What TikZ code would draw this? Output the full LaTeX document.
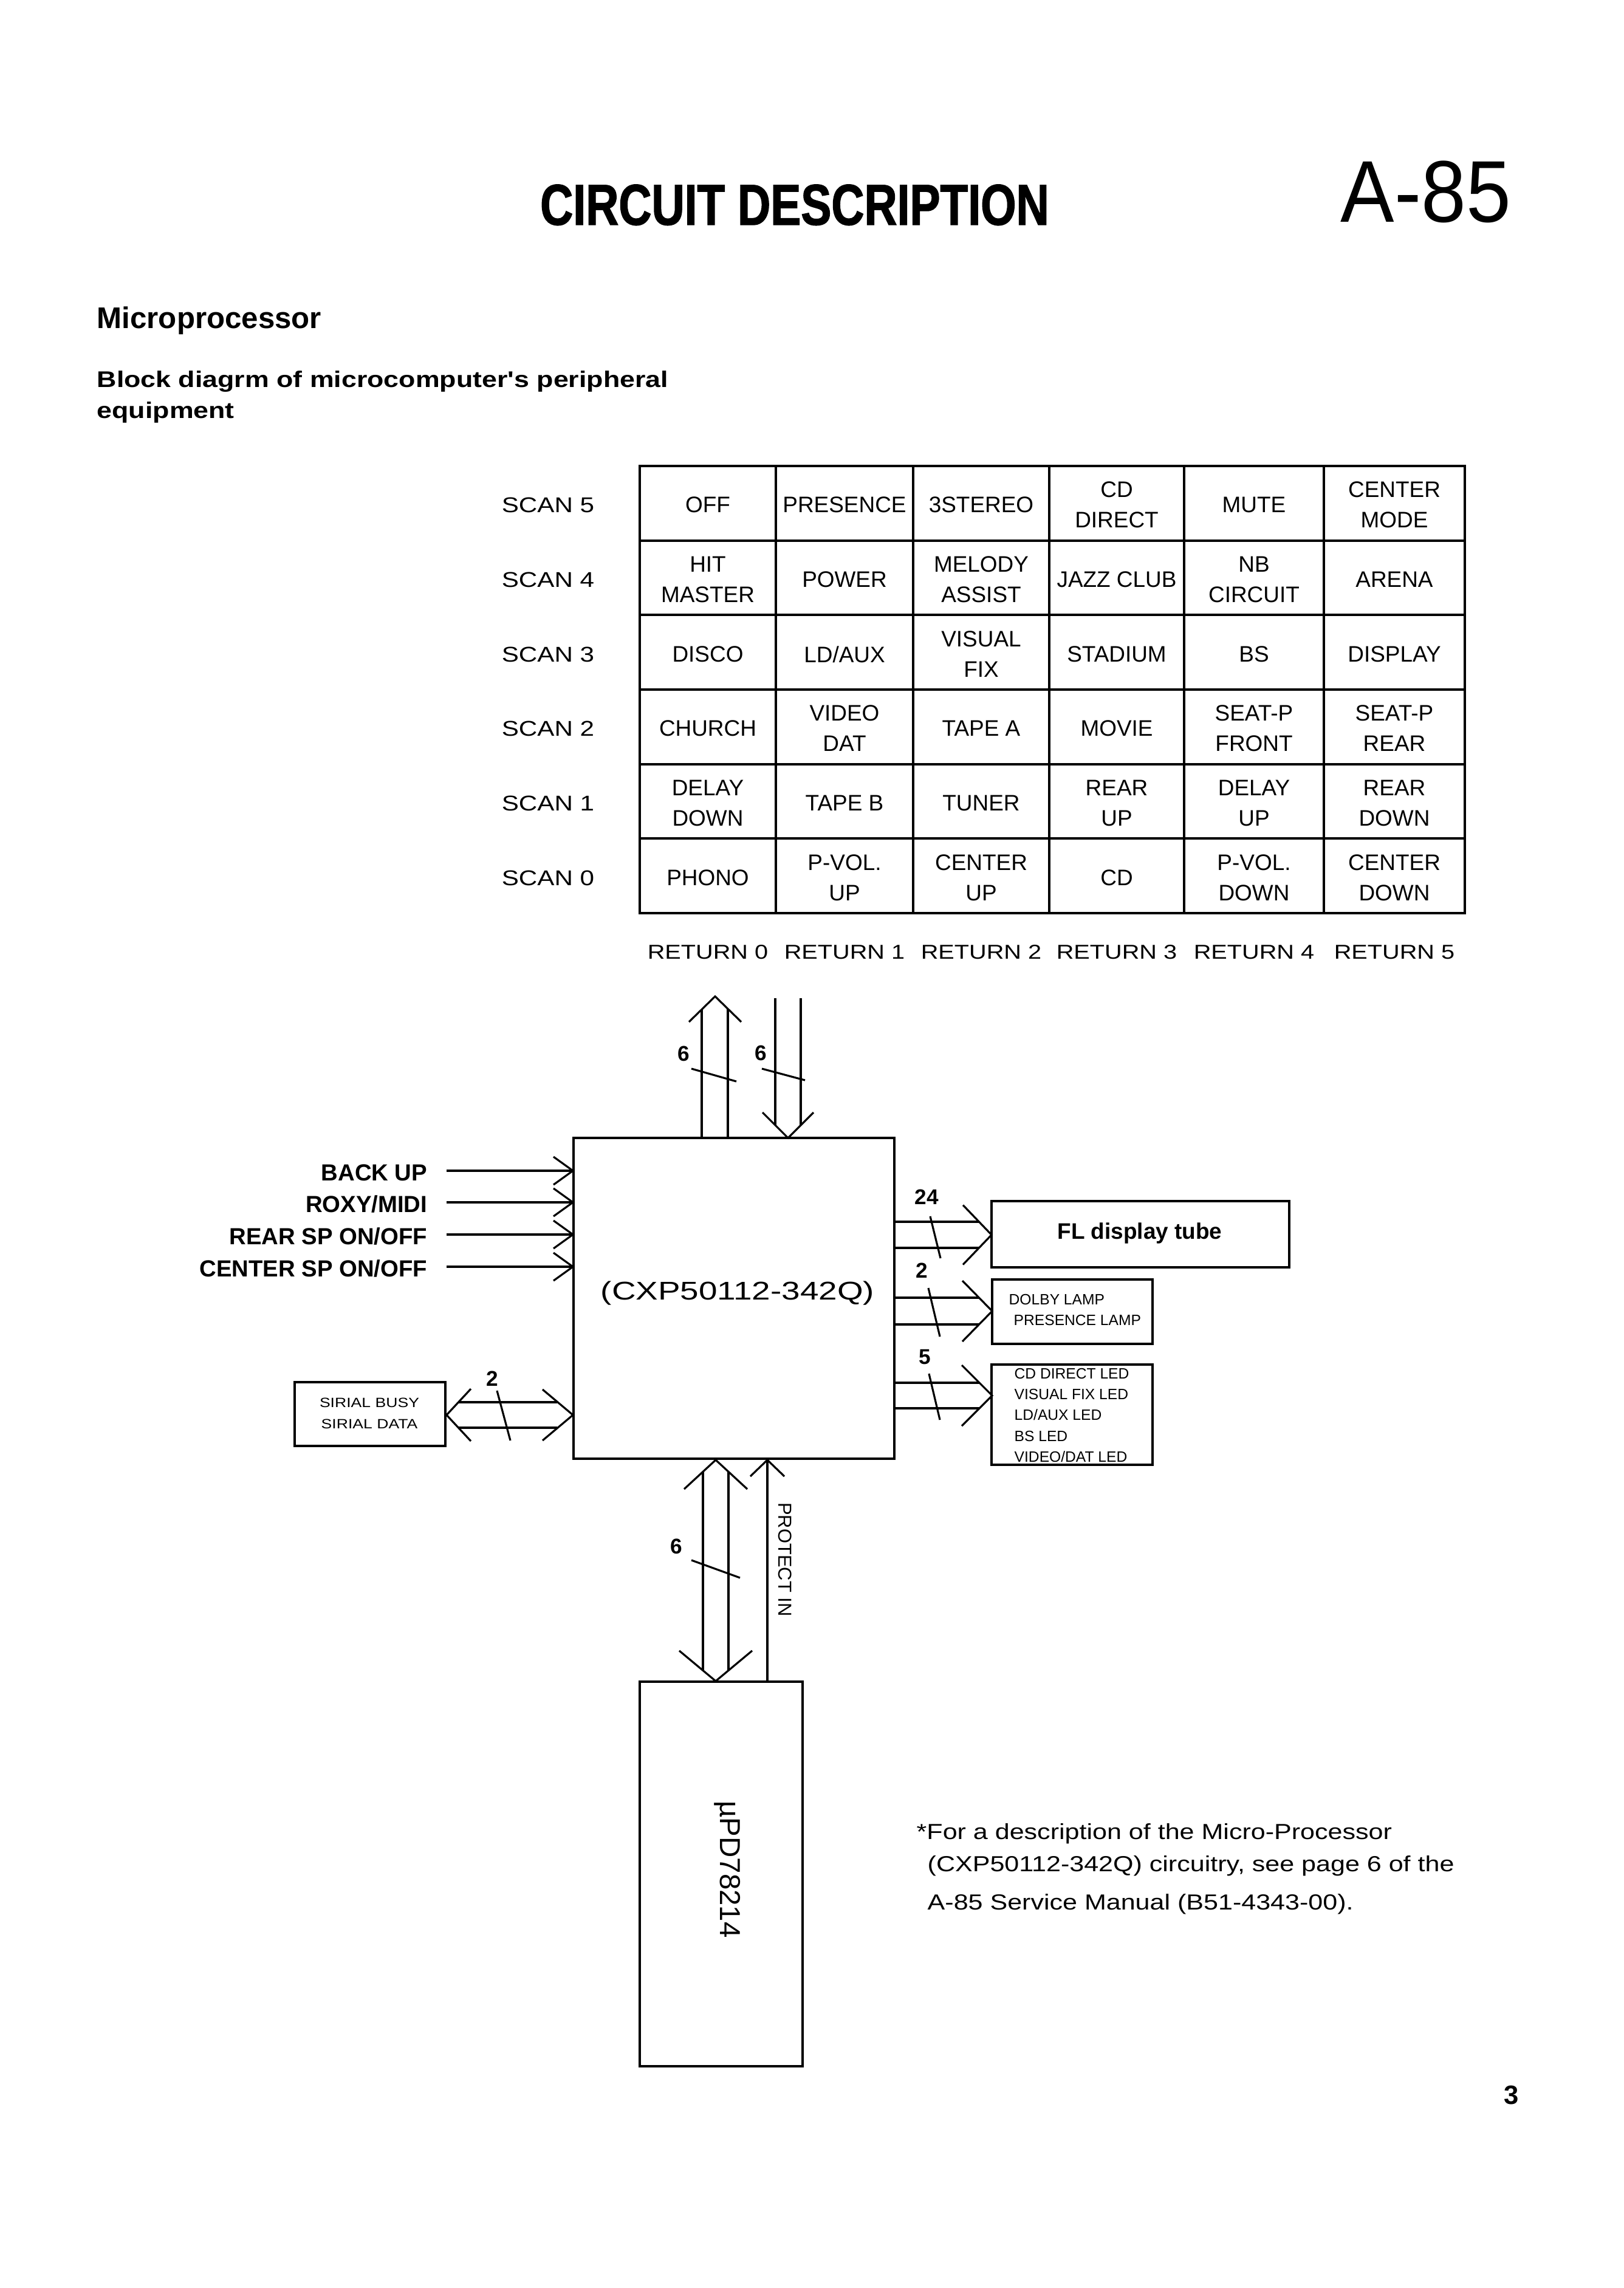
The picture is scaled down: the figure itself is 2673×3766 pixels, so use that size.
\documentclass[tikz,border=0pt]{standalone}
\usepackage{fontspec}
\setmainfont{Liberation Sans}
\newfontfamily\wideF{Liberation Sans}[FakeStretch=1.2]
\newfontfamily\wideG{Liberation Sans}[FakeStretch=1.3]
\newfontfamily\condF{Liberation Sans}[FakeStretch=0.79,FakeBold=1.4]
\newfontfamily\nrwF{Liberation Sans}[FakeStretch=0.92]
\newcommand\fs[2]{\fontsize{#1}{#2}\selectfont}
\newcommand\headR[4]{\draw[wire] (#1-#3,#2-#4) -- (#1,#2) -- (#1-#3,#2+#4);}
\newcommand\headL[4]{\draw[wire] (#1+#3,#2-#4) -- (#1,#2) -- (#1+#3,#2+#4);}
\newcommand\headU[4]{\draw[wire] (#1-#4,#2+#3) -- (#1,#2) -- (#1+#4,#2+#3);}
\newcommand\headD[4]{\draw[wire] (#1-#4,#2-#3) -- (#1,#2) -- (#1+#4,#2-#3);}
\newcommand\cellrow[8]{%
  \node[cell] (#2-0) at (1165,#1) {#3};
  \node[cell] (#2-1) at (1390,#1) {#4};
  \node[cell] (#2-2) at (1615,#1) {#5};
  \node[cell] (#2-3) at (1838,#1) {#6};
  \node[cell] (#2-4) at (2064,#1) {#7};
  \node[cell] (#2-5) at (2295,#1) {#8};}
\tikzset{
  box/.style={draw, line width=1.1pt, inner sep=0pt},
  lbl/.style={inner sep=0pt},
  wire/.style={line width=0.9pt},
  cell/.style={inner sep=0pt, align=center, font=\fs{10.5}{14.2}},
  scanlbl/.style={inner sep=0pt, font=\wideF\fs{10}{12}},
  retlbl/.style={inner sep=0pt, font=\wideF\fs{9.4}{12}},
  inlbl/.style={inner sep=0pt, anchor=east, font=\bfseries\fs{10.9}{13}},
  buslbl/.style={inner sep=0pt, font=\bfseries\fs{10}{12}},
  smalltxt/.style={inner sep=0pt, anchor=west, font=\fs{7}{9}},
  foot/.style={inner sep=0pt, anchor=base west, font=\wideF\fs{10.2}{12}},
}
\begin{document}
\begin{tikzpicture}[x=0.01cm,y=-0.01cm]
\useasboundingbox (0,0) rectangle (2673,3766);
\fill[white] (0,0) rectangle (2673,3766);

% headings
\node[lbl, anchor=base, font=\condF\bfseries\fs{27}{30}] (title) at (1308,370) {CIRCUIT DESCRIPTION};
\node[lbl, anchor=base, font=\nrwF\fs{41}{48}] (model) at (2347,365) {A-85};
\node[lbl, anchor=base west, font=\bfseries\fs{14}{17}] (sec) at (159,540) {Microprocessor};
\node[lbl, anchor=base west, font=\wideF\bfseries\fs{10.6}{13}] (sub1) at (159,637) {Block diagrm of microcomputer's peripheral};
\node[lbl, anchor=base west, font=\wideF\bfseries\fs{10.6}{13}] (sub2) at (159,688) {equipment};

% key matrix table
\node[box, minimum width=13.58cm, minimum height=7.36cm] (tbl) at (1732,1135) {};
\foreach \x in {1277,1503,1727,1949,2179} \draw[line width=1pt] (\x,767) -- (\x,1503);
\foreach \y in {889.7,1012.3,1135,1257.7,1380.3} \draw[line width=1.1pt] (1053,\y) -- (2411,\y);

\cellrow{831}{s5}{OFF}{PRESENCE}{3STEREO}{CD\\DIRECT}{MUTE}{CENTER\\MODE}
\cellrow{954}{s4}{HIT\\MASTER}{POWER}{MELODY\\ASSIST}{JAZZ CLUB}{NB\\CIRCUIT}{ARENA}
\cellrow{1077}{s3}{DISCO}{LD/AUX}{VISUAL\\FIX}{STADIUM}{BS}{DISPLAY}
\cellrow{1199}{s2}{CHURCH}{VIDEO\\DAT}{TAPE A}{MOVIE}{SEAT-P\\FRONT}{SEAT-P\\REAR}
\cellrow{1322}{s1}{DELAY\\DOWN}{TAPE B}{TUNER}{REAR\\UP}{DELAY\\UP}{REAR\\DOWN}
\cellrow{1445}{s0}{PHONO}{P-VOL.\\UP}{CENTER\\UP}{CD}{P-VOL.\\DOWN}{CENTER\\DOWN}

\node[scanlbl] (scan5) at (902,831) {SCAN 5};
\node[scanlbl] (scan4) at (902,954) {SCAN 4};
\node[scanlbl] (scan3) at (902,1077) {SCAN 3};
\node[scanlbl] (scan2) at (902,1199) {SCAN 2};
\node[scanlbl] (scan1) at (902,1322) {SCAN 1};
\node[scanlbl] (scan0) at (902,1445) {SCAN 0};

\node[retlbl] (ret0) at (1165,1567) {RETURN 0};
\node[retlbl] (ret1) at (1390,1567) {RETURN 1};
\node[retlbl] (ret2) at (1615,1567) {RETURN 2};
\node[retlbl] (ret3) at (1838,1567) {RETURN 3};
\node[retlbl] (ret4) at (2064,1567) {RETURN 4};
\node[retlbl] (ret5) at (2295,1567) {RETURN 5};

% main microcomputer box
\node[box, minimum width=5.28cm, minimum height=5.28cm] (cpu) at (1208,2137) {};
\node[lbl, font=\wideG\fs{12}{14}] (cputxt) at (1214,2129) {(CXP50112-342Q)};

% top buses
\draw[wire] (cpu.north -| 1155,0) -- (1155,1661);
\draw[wire] (cpu.north -| 1198,0) -- (1198,1661);
\headU{1177}{1640}{42}{43}
\draw[wire] (1138,1759) -- (1212,1780);
\node[buslbl] (n6a) at (1125,1734) {6};
\coordinate (dtop) at (1297,1643);
\draw[wire] (dtop -| 1276,0) -- (1276,1852);
\draw[wire] (dtop -| 1318,0) -- (1318,1852);
\headD{1297}{1873}{42}{42}
\draw[wire] (1254,1759) -- (1325,1778);
\node[buslbl] (n6b) at (1252,1733) {6};

% left inputs
\foreach \yy/\nm/\tx in {1927/bu/{BACK UP},1979/rm/{ROXY/MIDI},2032/rs/{REAR SP ON/OFF},2085/cs/{CENTER SP ON/OFF}}{
  \node[inlbl] (in-\nm) at (704,\yy+3) {\tx};
  \draw[wire] (735,\yy) -- (cpu.west |- 0,\yy);
  \headR{943}{\yy}{32}{23}
}

% serial
\node[box, minimum width=2.48cm, minimum height=1.05cm] (ser) at (609,2327.5) {};
\node[lbl, align=center, font=\wideF\fs{6.3}{10}] (sertxt) at (608,2326) {SIRIAL BUSY\\SIRIAL DATA};
\draw[wire] (755,2308) -- (917,2308);
\draw[wire] (755,2350) -- (917,2350);
\headL{735}{2329}{40}{43}
\headR{943}{2329}{50}{42}
\draw[wire] (818,2289) -- (840,2371);
\node[buslbl] (n2s) at (810,2269) {2};

% FL display tube
\node[box, minimum width=4.90cm, minimum height=1.09cm] (fl) at (1877,2031.5) {};
\node[lbl, font=\bfseries\fs{10.5}{13}] (fltxt) at (1876,2030) {FL display tube};
\draw[wire] (cpu.east |- 0,2011) -- (1611,2011);
\draw[wire] (cpu.east |- 0,2054) -- (1611,2054);
\headR{1632}{2032.5}{47}{49}
\draw[wire] (1531,2002) -- (1548,2071);
\node[buslbl] (n24) at (1525,1970) {24};

% lamps
\node[box, minimum width=2.64cm, minimum height=1.06cm] (dol) at (1765,2159) {};
\node[smalltxt] (dol1) at (1660,2139) {DOLBY LAMP};
\node[smalltxt] (dol2) at (1668,2173) {PRESENCE LAMP};
\draw[wire] (cpu.east |- 0,2136) -- (1612,2136);
\draw[wire] (cpu.east |- 0,2180) -- (1612,2180);
\headR{1633}{2158}{49}{50}
\draw[wire] (1528,2120) -- (1547,2200);
\node[buslbl] (n2d) at (1517,2091) {2};

% LEDs
\node[box, minimum width=2.65cm, minimum height=1.65cm] (led) at (1764.5,2328.5) {};
\node[smalltxt] (led1) at (1669,2261) {CD DIRECT LED};
\node[smalltxt] (led2) at (1669,2295) {VISUAL FIX LED};
\node[smalltxt] (led3) at (1669,2329) {LD/AUX LED};
\node[smalltxt] (led4) at (1669,2364) {BS LED};
\node[smalltxt] (led5) at (1669,2398) {VIDEO/DAT LED};
\draw[wire] (cpu.east |- 0,2276) -- (1612,2276);
\draw[wire] (cpu.east |- 0,2318) -- (1612,2318);
\headR{1633}{2297}{50}{50}
\draw[wire] (1529,2261) -- (1547,2337);
\node[buslbl] (n5) at (1522,2234) {5};

% uPD78214
\node[box, minimum width=2.68cm, minimum height=6.33cm] (upd) at (1187,3084.5) {};
\node[lbl, rotate=-90, font=\fs{13.5}{16}] (updtxt) at (1197,3077) {µPD78214};
\draw[wire] (1157,2422) -- (1157,2750);
\draw[wire] (1199,2422) -- (1199,2750);
\headU{1178}{2403}{48}{52}
\headD{1178}{2767}{50}{60}
\draw[wire] (1138,2568) -- (1218,2597);
\node[buslbl] (n6c) at (1113,2545) {6};
\draw[wire] (upd.north -| 1263,0) -- (cpu.south -| 1263,0);
\headU{1263}{2403}{27}{28}
\node[lbl, rotate=-90, font=\fs{8.8}{10}] (prot) at (1292,2567) {PROTECT IN};

% footnote
\node[foot] (f1) at (1508,3027) {*For a description of the Micro-Processor};
\node[foot] (f2) at (1526,3080) {(CXP50112-342Q) circuitry, see page 6 of the};
\node[foot] (f3) at (1526,3143) {A-85 Service Manual (B51-4343-00).};

\node[lbl, font=\bfseries\fs{12.4}{14}] (pg) at (2488,3448) {3};
\end{tikzpicture}
\end{document}
